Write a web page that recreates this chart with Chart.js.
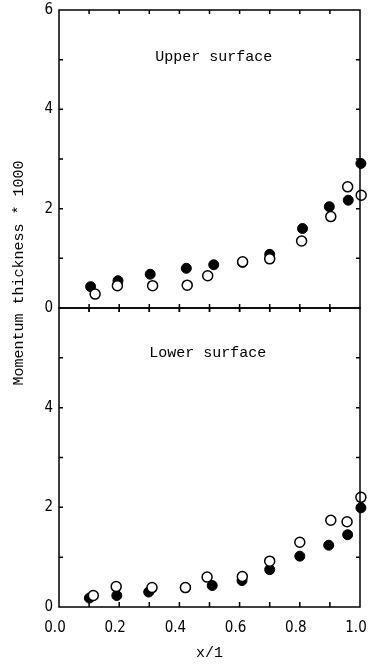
<!DOCTYPE html>
<html><head><meta charset="utf-8">
<script src="https://cdn.jsdelivr.net/npm/chart.js@4"></script>
<style>
html,body{margin:0;padding:0;background:#fff;}
#wrap{position:relative;width:368px;height:665px;overflow:hidden;}
canvas{position:absolute;left:0;top:0;}
</style></head><body>
<div id="wrap"><canvas id="cu" width="368" height="665"></canvas><canvas id="cl" width="368" height="665"></canvas></div>
<script>
// ---- data ----
const upperFilledX = [0.105, 0.196, 0.303, 0.423, 0.514, 0.610, 0.700, 0.809, 0.898, 0.961, 1.003];
const upperFilledY = [0.43, 0.55, 0.68, 0.80, 0.87, 0.92, 1.08, 1.60, 2.04, 2.17, 2.91];
const upperOpenX   = [0.120, 0.194, 0.311, 0.426, 0.494, 0.610, 0.700, 0.806, 0.903, 0.959, 1.004];
const upperOpenY   = [0.28, 0.45, 0.45, 0.46, 0.65, 0.93, 0.99, 1.35, 1.84, 2.44, 2.27];
const lowerFilledX = [0.101, 0.192, 0.298, 0.420, 0.509, 0.608, 0.700, 0.800, 0.896, 0.959, 1.003];
const lowerFilledY = [0.18, 0.23, 0.30, 0.39, 0.43, 0.53, 0.75, 1.02, 1.24, 1.45, 1.99];
const lowerOpenX   = [0.114, 0.190, 0.309, 0.420, 0.492, 0.609, 0.700, 0.800, 0.903, 0.957, 1.003];
const lowerOpenY   = [0.23, 0.41, 0.39, 0.39, 0.60, 0.61, 0.92, 1.30, 1.74, 1.71, 2.20];

const yTicksUpper = [0, 2, 4, 6];
const yTicksLower = [0, 2, 4];
const xTickLabels = ['0.0', '0.2', '0.4', '0.6', '0.8', '1.0'];
const xMinorTicks = [0.1, 0.2, 0.3, 0.4, 0.5, 0.6, 0.7, 0.8, 0.9];
const yMinorTicks = [1, 2, 3, 4, 5];
const upperLabel = 'Upper surface';
const lowerLabel = 'Lower surface';
const yTitle = 'Momentum thickness * 1000';
const xTitle = 'x/1';

const pts = (xs, ys) => xs.map((x, i) => ({x, y: ys[i]}));
const tickFont = {family: '"Liberation Sans Narrow", "DejaVu Sans Condensed", "Liberation Sans", sans-serif', size: 15};
const monoFont = '"Liberation Mono", "DejaVu Sans Mono", monospace';

const framePlugin = {
  id: 'frame',
  afterDraw(chart, args, o) {
    const {ctx, chartArea: a, scales: {x, y}} = chart;
    ctx.save();
    ctx.strokeStyle = '#000';
    ctx.lineWidth = 1.5;
    ctx.strokeRect(a.left, a.top, a.right - a.left, a.bottom - a.top);
    ctx.beginPath();
    xMinorTicks.forEach(v => {
      const px = x.getPixelForValue(v);
      ctx.moveTo(px, a.top - o.topOut); ctx.lineTo(px, a.top + o.topIn);
      ctx.moveTo(px, a.bottom - o.botIn); ctx.lineTo(px, a.bottom + o.botOut);
    });
    yMinorTicks.forEach(v => {
      const py = y.getPixelForValue(v);
      ctx.moveTo(a.left, py); ctx.lineTo(a.left + 4, py);
      ctx.moveTo(a.right - 4, py); ctx.lineTo(a.right, py);
    });
    ctx.stroke();
    ctx.fillStyle = '#000';
    ctx.font = '15px ' + monoFont;
    ctx.textAlign = 'left';
    ctx.textBaseline = 'middle';
    ctx.fillText(o.label, x.getPixelForValue(o.labelX), y.getPixelForValue(o.labelY));
    if (o.yTitle) {
      ctx.translate(19, 273);
      ctx.rotate(-Math.PI / 2);
      ctx.textAlign = 'center';
      ctx.fillText(o.yTitle, 0, 0);
    }
    ctx.restore();
  }
};

function makeChart(id, openX, openY, fillX, fillY, yTicks, padding, xShow, frameOpts) {
  return new Chart(document.getElementById(id), {
    type: 'scatter',
    data: {
      datasets: [
        {data: pts(openX, openY), backgroundColor: '#fff', borderColor: '#000', borderWidth: 1.5, pointRadius: 5, clip: false},
        {data: pts(fillX, fillY), backgroundColor: '#000', borderColor: '#000', borderWidth: 1, pointRadius: 5, clip: false}
      ]
    },
    options: {
      responsive: false,
      animation: false,
      events: [],
      layout: {padding},
      plugins: {legend: {display: false}, tooltip: {enabled: false}, frame: frameOpts},
      scales: {
        x: {
          type: 'linear', min: 0, max: 1, display: xShow,
          grid: {display: false, drawTicks: false}, border: {display: false},
          afterBuildTicks: s => { s.ticks = xTickLabels.map(t => ({value: parseFloat(t)})); },
          ticks: {color: '#000', font: tickFont, padding: 12, maxRotation: 0, labelOffset: -4,
                  callback: (v, i) => xTickLabels[i]},
          title: {display: xShow, text: xTitle, color: '#000', font: {family: monoFont, size: 15}, padding: {top: 0, bottom: 3}},
          afterFit: s => { if (s.options.display) { s.height = 58; } s.paddingLeft = 0; s.paddingRight = 0; }
        },
        y: {
          type: 'linear', min: 0, max: 6,
          grid: {display: false, drawTicks: false}, border: {display: false},
          afterBuildTicks: s => { s.ticks = yTicks.map(v => ({value: v})); },
          ticks: {color: '#000', font: tickFont, padding: 6},
          afterFit: s => { s.width = 59; s.paddingTop = 0; s.paddingBottom = 0; }
        }
      }
    },
    plugins: [framePlugin]
  });
}

makeChart('cu', upperOpenX, upperOpenY, upperFilledX, upperFilledY, yTicksUpper,
  {top: 10, right: 8, bottom: 357, left: 0}, false,
  {topIn: 4, topOut: 0, botIn: 4, botOut: 4, label: upperLabel, labelX: 0.32, labelY: 5.05, yTitle: yTitle});
makeChart('cl', lowerOpenX, lowerOpenY, lowerFilledX, lowerFilledY, yTicksLower,
  {top: 308, right: 8, bottom: 0, left: 0}, true,
  {topIn: 4, topOut: 0, botIn: 5, botOut: 0, label: lowerLabel, labelX: 0.30, labelY: 5.1, yTitle: null});
</script>
</body></html>
